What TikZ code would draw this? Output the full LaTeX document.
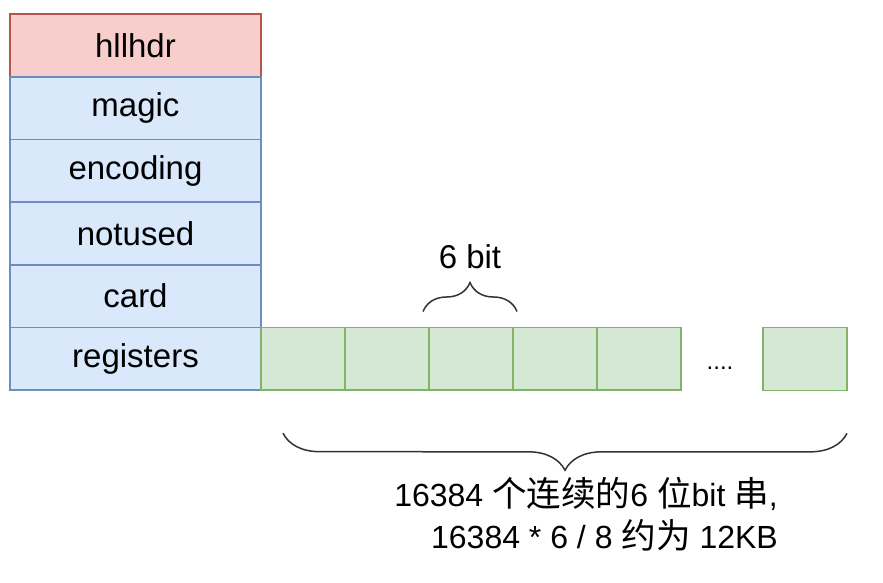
\documentclass[tikz,border=0pt]{standalone}
\usepackage{fontspec}
\setmainfont{Liberation Sans}
\newfontfamily\cjk[Scale=1.08]{Noto Sans CJK SC}
\usepackage{xcolor}
\usetikzlibrary{positioning, decorations.pathreplacing}
\definecolor{hdrfill}{HTML}{F8CECC}
\definecolor{hdrline}{HTML}{B85450}
\definecolor{fieldfill}{HTML}{DAE8FC}
\definecolor{fieldline}{HTML}{6C8EBF}
\definecolor{regfill}{HTML}{D5E8D4}
\definecolor{regline}{HTML}{82B366}

\begin{document}
\begin{tikzpicture}[x=1pt, y=-1pt,
    field/.style={draw=fieldline, fill=fieldfill, line width=1.6pt, minimum width=251pt, minimum height=62.7pt, inner sep=0pt, outer sep=0pt, font=\fontsize{33}{38}\selectfont},
    hdr/.style={field, draw=hdrline, fill=hdrfill},
    cell/.style={draw=regline, fill=regfill, line width=1.6pt, minimum width=84pt, minimum height=62.7pt, inner sep=0pt, outer sep=0pt},
    curly/.style={draw=black!80, line width=1.5pt, decorate, decoration={brace, amplitude=#1}}]
    \useasboundingbox (0,0) rectangle (883,582);
    % Draw the header fields
    \node[hdr] (hllhdr) at (135.5,45.35) {hllhdr};
    \node[field, below=0pt of hllhdr] (magic) {magic};
    \node[field, below=0pt of magic] (encoding) {encoding};
    \node[field, below=0pt of encoding] (notused) {notused};
    \node[field, below=0pt of notused] (card) {card};
    \node[field, below=0pt of card] (registers) {registers};
    % Draw the register cells
    \node[cell, right=0pt of registers] (r1) {};
    \foreach \i [count=\j from 2] in {1,...,4}
        \node[cell, right=0pt of r\i] (r\j) {};
    \node[cell] (rlast) at (805,359) {};
    \node[font=\fontsize{24}{28}\selectfont] (dots) at (720,368) {....};
    % Draw the braces
    \draw[curly=29pt] ([shift={(-6,-16)}]r3.north west) -- ([shift={(4,-16)}]r3.north east);
    \node[font=\fontsize{33}{38}\selectfont] (width) at (470,257) {6 bit};
    \draw[curly=37pt] ([shift={(0,43)}]rlast.south east) -- ([shift={(22,43)}]r1.south west);
    \node[align=right, anchor=east, inner sep=0pt, font=\fontsize{32}{42}\selectfont] (total) at (778,514)
        {16384 {\cjk 个连续的}6 {\cjk 位}bit {\cjk 串},\\16384 * 6 / 8 {\cjk 约为} 12KB};
\end{tikzpicture}
\end{document}
